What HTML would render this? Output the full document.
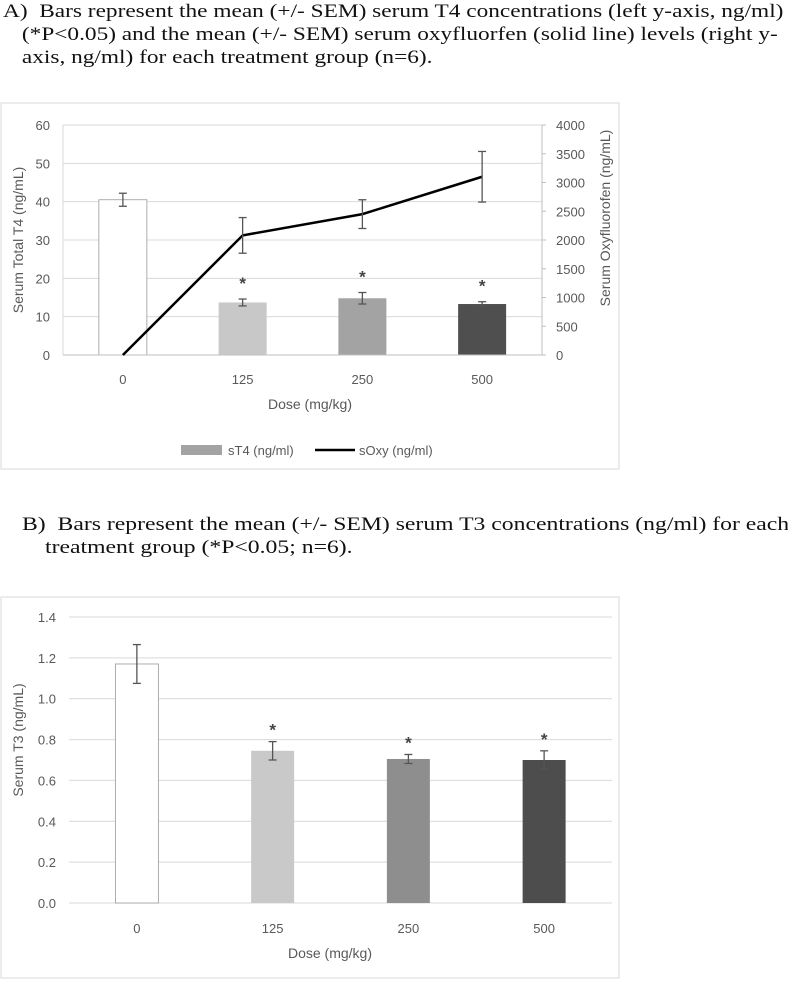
<!DOCTYPE html>
<html><head><meta charset="utf-8"><style>
body{margin:0;width:788px;height:985px;background:#fff;overflow:hidden;position:relative;font-family:"Liberation Sans",sans-serif}
.cap{position:absolute;font-family:"Liberation Serif",serif;font-size:18.5px;color:#111;line-height:23px;white-space:nowrap;transform-origin:0 0;transform:scaleX(1.26)}
svg{position:absolute;left:0;top:0}
</style></head><body>
<div class="cap" style="left:3px;top:1px">A)&nbsp; Bars represent the mean (+/- SEM) serum T4 concentrations (left y-axis, ng/ml)<br><span style="padding-left:15px">(*P&lt;0.05) and the mean (+/- SEM) serum oxyfluorfen (solid line) levels (right y-</span><br><span style="padding-left:15px">axis, ng/ml) for each treatment group (n=6).</span></div>
<div class="cap" style="left:22px;top:514px;transform:scaleX(1.28)">B)&nbsp; Bars represent the mean (+/- SEM) serum T3 concentrations (ng/ml) for each<br><span style="padding-left:18px">treatment group (*P&lt;0.05; n=6).</span></div>
<svg id="s" width="788" height="985"></svg>
<script>
const catsA=["0","125","250","500"];
const t4Vals=[40.5,13.7,14.8,13.3];
const t4Err=[1.7,0.9,1.5,0.6];
const t4Sig=[false,true,true,true];
const oxyVals=[0,2080,2450,3100];
const oxyErr=[0,310,250,440];
const leftTicksA=[0,10,20,30,40,50,60];
const rightTicksA=[0,500,1000,1500,2000,2500,3000,3500,4000];
const catsB=["0","125","250","500"];
const t3Vals=[1.17,0.745,0.705,0.70];
const t3Err=[0.095,0.045,0.022,0.045];
const t3Sig=[false,true,true,true];
const ticksB=[0,0.2,0.4,0.6,0.8,1.0,1.2,1.4];
const colA=["#ffffff","#c8c8c8","#a3a3a3","#4f4f4f"];
const colB=["#ffffff","#c9c9c9","#8e8e8e","#4d4d4d"];
const s=document.getElementById('s');
const NS="http://www.w3.org/2000/svg";
function mk(t,a,txt){const e=document.createElementNS(NS,t);for(const k in a)e.setAttribute(k,a[k]);if(txt!==undefined)e.textContent=txt;s.appendChild(e);return e;}
function err(x,y1,y2,name){const g=[mk('line',{x1:x,x2:x,y1:y1,y2:y2,stroke:'#555','stroke-width':1.3}),mk('line',{x1:x-4,x2:x+4,y1:y1,y2:y1,stroke:'#555','stroke-width':1.3}),mk('line',{x1:x-4,x2:x+4,y1:y2,y2:y2,stroke:'#555','stroke-width':1.3})];g.forEach(e=>{});}
// Chart A
let e=mk('rect',{x:1,y:103,width:618,height:366,fill:'none',stroke:'#d9d9d9'});

const ax0=63,ax1=542,ay0=355,ay1=125;
const yL=v=>ay0-(v/60)*(ay0-ay1), yR=v=>ay0-(v/4000)*(ay0-ay1);
const xA=i=>ax0+(ax1-ax0)*(i+0.5)/catsA.length;
leftTicksA.forEach(t=>{if(t>0){e=mk('line',{x1:ax0,x2:ax1,y1:yL(t),y2:yL(t),stroke:'#d9d9d9'});}
e=mk('text',{x:50,y:yL(t)+5,'text-anchor':'end','font-size':13,fill:'#595959'},t);});
rightTicksA.forEach(t=>{e=mk('text',{x:556,y:yR(t)+5,'font-size':13,fill:'#595959'},t);
e=mk('line',{x1:ax1,x2:ax1+4,y1:yR(t),y2:yR(t),stroke:'#bfbfbf'});});
e=mk('line',{x1:ax0,x2:ax0,y1:ay1,y2:ay0,stroke:'#d9d9d9'});
e=mk('line',{x1:ax1,x2:ax1,y1:ay1,y2:ay0,stroke:'#bfbfbf'});
t4Vals.forEach((v,i)=>{const x=xA(i);e=mk('rect',{x:x-24,y:yL(v),width:48,height:ay0-yL(v),fill:colA[i],stroke:i==0?'#9a9a9a':'none','stroke-width':0.8});
err(x,yL(v+t4Err[i]),yL(v-t4Err[i]),'error-bar-t4');
if(t4Sig[i]){e=mk('text',{x:x,y:yL(v+t4Err[i])-10,'text-anchor':'middle','font-size':17,'font-weight':'bold',fill:'#444'},'*');}
e=mk('text',{x:x,y:384,'text-anchor':'middle','font-size':13,fill:'#595959'},catsA[i]);});
e=mk('line',{x1:ax0,x2:ax1,y1:ay0,y2:ay0,stroke:'#bfbfbf'});
e=mk('polyline',{points:oxyVals.map((v,i)=>xA(i)+','+yR(v)).join(' '),fill:'none',stroke:'#000','stroke-width':2.5});
oxyVals.forEach((v,i)=>{if(oxyErr[i]>0)err(xA(i),yR(v+oxyErr[i]),yR(v-oxyErr[i]),'error-bar-oxy');});
e=mk('text',{x:310,y:409,'text-anchor':'middle','font-size':14,fill:'#595959'},'Dose (mg/kg)');
e=mk('text',{transform:'translate(23,240) rotate(-90)','text-anchor':'middle','font-size':14,fill:'#595959'},'Serum Total T4 (ng/mL)');
e=mk('text',{transform:'translate(610,218) rotate(-90)','text-anchor':'middle','font-size':14,fill:'#595959'},'Serum Oxyfluorofen (ng/mL)');
e=mk('rect',{x:181,y:445,width:41,height:10,fill:'#a3a3a3'});
e=mk('text',{x:228,y:455,'font-size':13,fill:'#595959'},'sT4 (ng/ml)');
e=mk('line',{x1:315,x2:355,y1:450,y2:450,stroke:'#000','stroke-width':2.5});
e=mk('text',{x:359,y:455,'font-size':13,fill:'#595959'},'sOxy (ng/ml)');
// Chart B
e=mk('rect',{x:1,y:597,width:618,height:381,fill:'none',stroke:'#d9d9d9'});

const bx0=69,bx1=612,by0=903,by1=617;
const yB=v=>by0-(v/1.4)*(by0-by1);
const xB=i=>bx0+(bx1-bx0)*(i+0.5)/catsB.length;
ticksB.forEach(t=>{e=mk('line',{x1:bx0,x2:bx1,y1:yB(t),y2:yB(t),stroke:'#d9d9d9'});
e=mk('text',{x:56,y:yB(t)+5,'text-anchor':'end','font-size':13,fill:'#595959'},t.toFixed(1));});
t3Vals.forEach((v,i)=>{const x=xB(i);e=mk('rect',{x:x-21.5,y:yB(v),width:43,height:by0-yB(v),fill:colB[i],stroke:i==0?'#9a9a9a':'none','stroke-width':0.8});
err(x,yB(v+t3Err[i]),yB(v-t3Err[i]),'error-bar-t3');
if(t3Sig[i]){e=mk('text',{x:x,y:yB(v+t3Err[i])-6,'text-anchor':'middle','font-size':17,'font-weight':'bold',fill:'#444'},'*');}
e=mk('text',{x:x,y:933,'text-anchor':'middle','font-size':13,fill:'#595959'},catsB[i]);});
e=mk('text',{x:330,y:958,'text-anchor':'middle','font-size':14,fill:'#595959'},'Dose (mg/kg)');
e=mk('text',{transform:'translate(23,740) rotate(-90)','text-anchor':'middle','font-size':14,fill:'#595959'},'Serum T3 (ng/mL)');
</script>
</body></html>
